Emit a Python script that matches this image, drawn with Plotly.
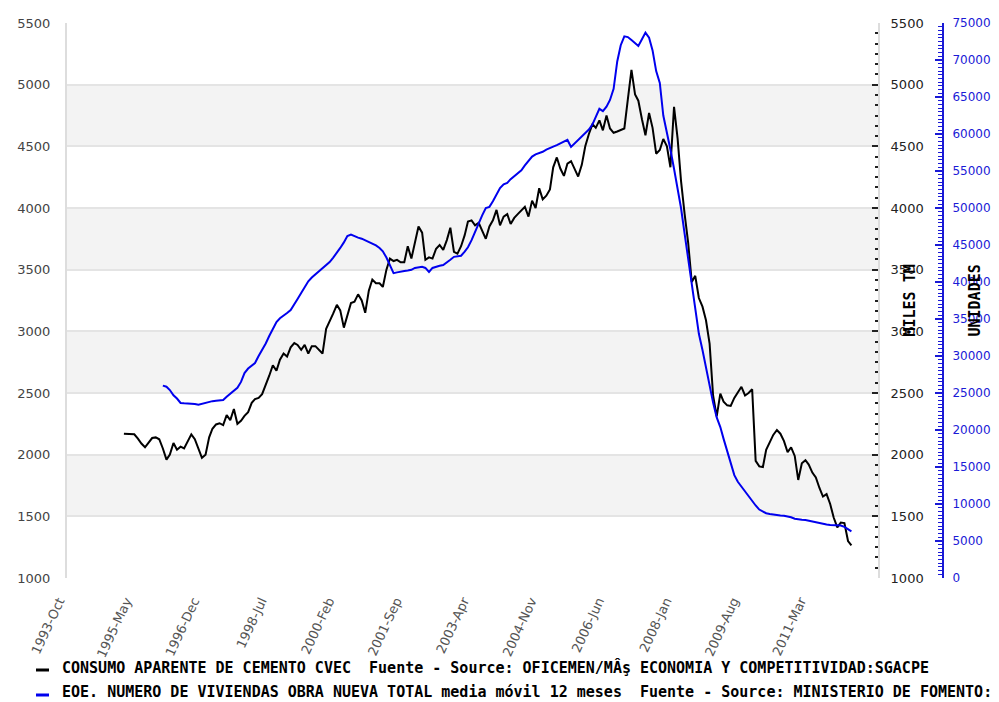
import pandas as pd
import plotly.graph_objects as go

# ---------------- data ----------------
cement_start = "1995-02-01"
cement_values = [
    2170, 2170, 2170, 2165, 2130, 2090, 2060, 2100, 2135, 2140,
    2125, 2050, 1960, 2000, 2095, 2040, 2065, 2050, 2110, 2165,
    2125, 2040, 1975, 2000, 2140, 2210, 2245, 2255, 2240, 2320,
    2280, 2370, 2250, 2275, 2315, 2345, 2420, 2450, 2460, 2490,
    2560, 2640, 2725, 2680, 2770, 2820, 2795, 2870, 2905, 2890,
    2850, 2890, 2820, 2880, 2880, 2850, 2820, 3020, 3075, 3145,
    3215, 3170, 3030, 3120, 3230, 3240, 3300, 3250, 3150, 3330,
    3420, 3390, 3390, 3360, 3500, 3590, 3570, 3580, 3560, 3560,
    3690, 3590, 3720, 3850, 3800, 3580, 3600, 3590, 3670, 3700,
    3660, 3740, 3840, 3645, 3630, 3690, 3780, 3890, 3900, 3860,
    3880, 3820, 3750, 3850, 3900, 3985, 3860, 3930, 3950, 3870,
    3920, 3950, 3985, 4010, 3930, 4060, 4000, 4160, 4070, 4100,
    4150, 4330, 4410, 4320, 4260, 4360, 4380, 4310, 4255, 4350,
    4500, 4600, 4680, 4650, 4710, 4630, 4750, 4645, 4610, 4620,
    4635, 4645, 4880, 5120, 4920, 4870, 4720, 4590, 4770, 4650,
    4440, 4470, 4560, 4500, 4330, 4820, 4560, 4220, 3950, 3720,
    3400, 3450, 3270, 3200, 3090, 2900, 2480, 2310, 2495, 2430,
    2400, 2395, 2460, 2500, 2550, 2480, 2500, 2530, 1950, 1905,
    1900, 2040, 2095, 2160, 2200, 2170, 2110, 2020, 2060, 1990,
    1795, 1930, 1955, 1920, 1855, 1815, 1730, 1660, 1680, 1600,
    1490, 1410, 1450, 1445, 1300, 1265,
]

housing_start = "1996-01-01"
housing_values = [
    26000, 25850, 25400, 24700, 24250, 23650, 23600, 23600, 23600, 23500,
    23400, 23550, 23700, 23800, 23900, 23950, 24000, 24050, 24500, 24900,
    25300, 25700, 26500, 27700, 28300, 28700, 29050, 30000, 30800, 31700,
    32700, 33600, 34600, 35100, 35400, 35800, 36200, 36900, 37700, 38500,
    39350, 40100, 40600, 41050, 41500, 41900, 42300, 42700, 43300, 43900,
    44600, 45350, 46200, 46400, 46150, 46000, 45850, 45650, 45450, 45200,
    44950, 44600, 44150, 43300, 42300, 41200, 41300, 41450, 41500, 41550,
    41650, 41900, 41950, 42050, 41900, 41350, 41900, 42100, 42200, 42300,
    42600, 43000, 43400, 43500, 43550, 44100, 44700, 45650, 46800, 47900,
    49000, 50000, 50150, 50900, 51750, 52700, 53200, 53400, 53900, 54300,
    54700, 55100, 55750, 56350, 56950, 57250, 57400, 57600, 57900, 58150,
    58300, 58500, 58750, 59000, 59200, 58250, 58700, 59200, 59650, 60100,
    60600, 61300, 62300, 63400, 63100, 63700, 64600, 66100, 69800, 72000,
    73200, 73100, 72700, 72300, 71900, 72800, 73700, 73000, 71300, 68500,
    66900, 62500, 60300, 57900, 55300, 52500, 50000, 46500, 43000, 39500,
    36500, 33000, 30800, 28400, 25800, 23700, 21700, 20400, 18800, 17100,
    15500, 13900, 13000, 12350, 11700, 11000, 10450, 9800, 9250, 8950,
    8750, 8650, 8550, 8500, 8450, 8400, 8350, 8200, 8000, 7900,
    7880, 7850, 7750, 7600, 7450, 7350, 7280, 7220, 7170, 7160,
    7160, 7100, 6900, 6600, 6300,
]

tick_dates = ["1993-10-01", "1995-05-01", "1996-12-01", "1998-07-01",
              "2000-02-01", "2001-09-01", "2003-04-01", "2004-11-01",
              "2006-06-01", "2008-01-01", "2009-08-01", "2011-03-01"]
tick_labels = ["1993-Oct", "1995-May", "1996-Dec", "1998-Jul", "2000-Feb",
               "2001-Sep", "2003-Apr", "2004-Nov", "2006-Jun", "2008-Jan",
               "2009-Aug", "2011-Mar"]

legend_texts = [
    "CONSUMO APARENTE DE CEMENTO CVEC  Fuente - Source: OFICEMEN/MÂş ECONOMIA Y COMPETITIVIDAD:SGACPE",
    "EOE. NUMERO DE VIVIENDAS OBRA NUEVA TOTAL media móvil 12 meses  Fuente - Source: MINISTERIO DE FOMENTO:",
]

# ---------------- figure ----------------
cement_dates = pd.date_range(cement_start, periods=len(cement_values), freq="MS")
housing_dates = pd.date_range(housing_start, periods=len(housing_values), freq="MS")

W, H = 999, 702
ML, MR, MT, MB = 67, 0, 23, 124
plot_right = 878
dom_end = (plot_right - ML) / (W - ML - MR)
blue_pos = (943 - ML) / (W - ML - MR)

BLUE = "#1a1ad6"
MONO = "DejaVu Sans Mono"
SANS = "DejaVu Sans"

fig = go.Figure()
fig.add_trace(go.Scatter(x=cement_dates, y=cement_values, mode="lines",
                         line=dict(color="black", width=2), yaxis="y",
                         showlegend=False))
fig.add_trace(go.Scatter(x=cement_dates, y=cement_values, mode="lines",
                         line=dict(color="rgba(0,0,0,0)", width=0), yaxis="y2",
                         showlegend=False, hoverinfo="skip"))
fig.add_trace(go.Scatter(x=housing_dates, y=housing_values, mode="lines",
                         line=dict(color="#0000ee", width=2), yaxis="y3",
                         showlegend=False))

# alternating background bands
for lo in (1500, 2500, 3500, 4500):
    fig.add_shape(type="rect", xref="x domain", yref="y", x0=0, x1=1,
                  y0=lo, y1=lo + 500, fillcolor="#f3f3f3", line_width=0,
                  layer="below")

# legend (short line + text)
for i, (txt, col) in enumerate(zip(legend_texts, ["black", "#0000ee"])):
    ycen = 667 + i * 25
    ypap = (H - MB - ycen) / (H - MT - MB)
    fig.add_shape(type="line", xref="paper", yref="paper",
                  x0=(36 - ML) / (W - ML), x1=(49 - ML) / (W - ML),
                  y0=ypap - 3 / (H - MT - MB), y1=ypap - 3 / (H - MT - MB),
                  line=dict(color=col, width=3))
    fig.add_annotation(x=(60 - ML) / (W - ML), y=ypap, xref="paper", yref="paper",
                       xanchor="left", yanchor="middle", showarrow=False,
                       text="<b>" + txt + "</b>",
                       font=dict(family=MONO, size=15, color="black"))

# axis titles
for txt, xp in (("MILES TM", 920), ("UNIDADES", 985)):
    fig.add_annotation(x=(xp - ML) / (W - ML), y=0.5, xref="paper", yref="paper",
                       textangle=-90, showarrow=False, text="<b>" + txt + "</b>",
                       font=dict(family=MONO, size=15, color="black"))

fig.update_layout(
    width=W, height=H,
    margin=dict(l=ML, r=MR, t=MT, b=MB, autoexpand=False),
    paper_bgcolor="white", plot_bgcolor="white",
    showlegend=False,
    xaxis=dict(domain=[0, dom_end], type="date",
               range=["1993-10-01", "2012-10-15"],
               tickmode="array", tickvals=tick_dates, ticktext=tick_labels,
               tickangle=-65, tickfont=dict(family=SANS, size=13, color="#555"),
               ticklabelstandoff=12, ticklabelshift=-8,
               showgrid=False, zeroline=False, showline=False, ticks=""),
    yaxis=dict(range=[1000, 5500], dtick=500, tick0=1000,
               showgrid=True, gridcolor="#e4e4e4", gridwidth=2,
               zeroline=False, showline=True, linecolor="#dddddd", linewidth=2,
               ticks="", tickfont=dict(family=SANS, size=13, color="#444"),
               ticklabelstandoff=12),
    yaxis2=dict(range=[1000, 5500], dtick=500, tick0=1000, overlaying="y",
                side="right", anchor="x", showgrid=False, zeroline=False,
                showline=True, linecolor="#dddddd", linewidth=2,
                ticks="inside", ticklen=6, tickwidth=2, tickcolor="#222",
                minor=dict(ticks="inside", ticklen=3, tickwidth=2,
                           tickcolor="#222", dtick=500 / 6, tick0=1000),
                tickfont=dict(family=SANS, size=13, color="#222"),
                ticklabelstandoff=8),
    yaxis3=dict(range=[0, 75000], dtick=5000, tick0=0, overlaying="y",
                side="right", anchor="free", position=blue_pos,
                showgrid=False, zeroline=False, tickformat="d",
                showline=True, linecolor=BLUE, linewidth=2,
                ticks="inside", ticklen=7, tickwidth=2, tickcolor=BLUE,
                minor=dict(ticks="inside", ticklen=4, tickwidth=1,
                           tickcolor=BLUE, dtick=500, tick0=0),
                tickfont=dict(family=SANS, size=12, color=BLUE),
                ticklabelstandoff=6),
)

fig.write_html("out.html", config={"displayModeBar": False},
               post_script="document.body.style.margin='0';document.body.style.overflow='hidden';")
